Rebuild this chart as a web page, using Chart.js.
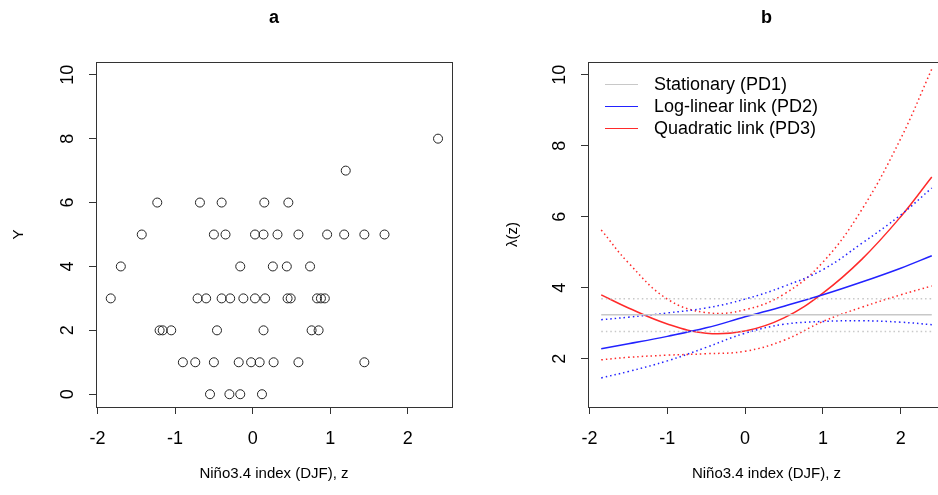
<!DOCTYPE html>
<html>
<head>
<meta charset="utf-8">
<script src="https://cdn.jsdelivr.net/npm/chart.js@4"></script>
<style>
  body { margin: 0; background: #fff; }
  #wrap { position: relative; width: 938px; height: 495px; overflow: hidden; }
  #panelA { position: absolute; left: 0; top: 0; }
  #panelB { position: absolute; left: 469px; top: 0; }
  #legend { position: absolute; left: 605px; top: 73px; font: 18px 'Liberation Sans', Arial, sans-serif; color: #000; }
  #legend .row { display: flex; align-items: center; height: 22px; }
  #legend .key { width: 33px; height: 0; margin-right: 16px; }
</style>
</head>
<body>
<div id="wrap">
  <canvas id="panelA" width="469" height="495"></canvas>
  <canvas id="panelB" width="480" height="495"></canvas>
  <div id="legend"></div>
</div>
<script>
// panel a: observed counts vs Nino3.4 index
const ninoIndex = [
  -0.55, -0.30, -0.16, 0.12,
  -0.90, -0.74, -0.50, -0.18, -0.02, 0.09, 0.27, 0.59, 1.44,
  -1.20, -1.16, -1.05, -0.46, 0.14, 0.76, 0.85,
  -1.83, -0.71, -0.60, -0.40, -0.29, -0.12, 0.03, 0.16, 0.45, 0.49, 0.83, 0.88, 0.93,
  -1.70, -0.16, 0.26, 0.44, 0.74,
  -1.43, -0.50, -0.35, 0.03, 0.14, 0.32, 0.59, 0.96, 1.18, 1.44, 1.70,
  -1.23, -0.68, -0.40, 0.15, 0.46,
  1.20,
  2.39
];
const counts = [
  0, 0, 0, 0,
  1, 1, 1, 1, 1, 1, 1, 1, 1,
  2, 2, 2, 2, 2, 2, 2,
  3, 3, 3, 3, 3, 3, 3, 3, 3, 3, 3, 3, 3,
  4, 4, 4, 4, 4,
  5, 5, 5, 5, 5, 5, 5, 5, 5, 5, 5,
  6, 6, 6, 6, 6,
  7,
  8
];

// panel b: fitted rate lambda(z) with confidence bands
const zGrid  = [-1.85, -1.5, -1, -0.5, 0, 0.5, 1, 1.5, 2, 2.4];
const pd1    = [3.24, 3.24, 3.24, 3.24, 3.24, 3.24, 3.24, 3.24, 3.24, 3.24];
const pd1Lo  = [2.77, 2.77, 2.77, 2.77, 2.77, 2.77, 2.77, 2.77, 2.77, 2.77];
const pd1Hi  = [3.69, 3.69, 3.69, 3.69, 3.69, 3.69, 3.69, 3.69, 3.69, 3.69];
const pd2    = [2.28, 2.42, 2.63, 2.87, 3.18, 3.48, 3.80, 4.16, 4.55, 4.90];
const pd2Lo  = [1.46, 1.64, 1.94, 2.32, 2.72, 2.97, 3.05, 3.07, 3.03, 2.96];
const pd2Hi  = [3.10, 3.17, 3.29, 3.43, 3.68, 4.04, 4.51, 5.25, 6.05, 6.81];
const pd3    = [3.80, 3.43, 2.98, 2.72, 2.78, 3.15, 3.85, 4.80, 6.00, 7.12];
const pd3Lo  = [1.97, 2.04, 2.10, 2.14, 2.21, 2.52, 3.05, 3.45, 3.80, 4.05];
const pd3Hi  = [5.63, 4.70, 3.68, 3.30, 3.38, 3.82, 4.72, 6.20, 8.20, 10.16];

const xTicks = [-2, -1, 0, 1, 2];
const yTicksA = [0, 2, 4, 6, 8, 10];
const yTicksB = [2, 4, 6, 8, 10];

Chart.defaults.font.family = "'Liberation Sans', Arial, sans-serif";
Chart.defaults.font.size = 15;
Chart.defaults.color = "#000";

let axisColor = "#333";
let tickFont = { size: 18 };

// R-style box around the plot region
const boxPlugin = {
    id: "box",
    afterDraw(chart) {
        const a = chart.chartArea;
        const ctx = chart.ctx;
        ctx.save();
        ctx.strokeStyle = axisColor;
        ctx.lineWidth = 1;
        ctx.strokeRect(Math.round(a.left) + 0.5, Math.round(a.top) + 0.5,
            Math.round(a.right - a.left), Math.round(a.bottom - a.top));
        ctx.restore();
    }
};

function xScale() {
    return {
        type: "linear",
        position: "bottom",
        min: -2.02,
        max: 2.57,
        afterBuildTicks: (s) => { s.ticks = xTicks.map(v => ({value: v})) },
        afterFit: (s) => { s.height = 88 },
        grid: { drawOnChartArea: false, drawTicks: true, tickLength: 7, color: axisColor },
        border: { display: false },
        ticks: { padding: 14, maxRotation: 0, font: tickFont, callback: v => v },
        title: { display: true, text: "Niño3.4 index (DJF), z", padding: { top: 0, bottom: 12 } }
    };
}

function yScale(min, max, ticks, width, title, titlePad) {
    return {
        type: "linear",
        min: min,
        max: max,
        afterBuildTicks: (s) => { s.ticks = ticks.map(v => ({value: v})) },
        afterFit: (s) => { s.width = width },
        grid: { drawOnChartArea: false, drawTicks: true, tickLength: 7, color: axisColor },
        border: { display: false },
        ticks: { minRotation: 90, maxRotation: 90, crossAlign: "center", padding: 11, font: tickFont, callback: v => v },
        title: { display: true, text: title, padding: { top: titlePad, bottom: 0 } }
    };
}

new Chart(document.getElementById("panelA"), {
    type: "scatter",
    data: {
        datasets: [
            {
                label: "Y",
                data: ninoIndex.map((z, i) => ({x: z, y: counts[i]})),
                pointStyle: "circle",
                pointRadius: 4.5,
                pointBorderWidth: 1,
                borderColor: "#222",
                backgroundColor: "rgba(0,0,0,0)"
            }
        ]
    },
    options: {
        responsive: false,
        animation: false,
        devicePixelRatio: 1,
        layout: { padding: { left: 0, right: 17, top: 0, bottom: 0 } },
        scales: {
            x: xScale(),
            y: yScale(-0.4, 10.4, yTicksA, 96, "Y", 10)
        },
        plugins: {
            legend: { display: false },
            tooltip: { enabled: false },
            title: {
                display: true,
                text: "a",
                fullSize: false,
                font: { size: 18, weight: "bold" },
                padding: { top: 7, bottom: 33.4 }
            }
        }
    },
    plugins: [boxPlugin]
});

function curve(label, values, color, dotted, inLegend) {
    return {
        label: label,
        data: zGrid.map((z, i) => ({x: z, y: values[i]})),
        borderColor: color,
        borderWidth: 1.5,
        borderDash: dotted ? [1.5, 3] : [],
        pointRadius: 0,
        tension: 0.4,
        fill: false,
        inLegend: inLegend
    };
}

let gray = "#c8c8c8";
let blue = "#2222ff";
let red = "#ff2a2a";

const chartB = new Chart(document.getElementById("panelB"), {
    type: "line",
    data: {
        datasets: [
            curve("Stationary (PD1)", pd1, gray, false, true),
            curve("PD1 lower", pd1Lo, gray, true, false),
            curve("PD1 upper", pd1Hi, gray, true, false),
            curve("Log-linear link (PD2)", pd2, blue, false, true),
            curve("PD2 lower", pd2Lo, blue, true, false),
            curve("PD2 upper", pd2Hi, blue, true, false),
            curve("Quadratic link (PD3)", pd3, red, false, true),
            curve("PD3 lower", pd3Lo, red, true, false),
            curve("PD3 upper", pd3Hi, red, true, false)
        ]
    },
    options: {
        responsive: false,
        animation: false,
        devicePixelRatio: 1,
        layout: { padding: { left: 0, right: 4, top: 0, bottom: 0 } },
        scales: {
            x: xScale(),
            y: yScale(0.64, 10.36, yTicksB, 119, "λ(z)", 35)
        },
        plugins: {
            legend: { display: false },
            tooltip: { enabled: false },
            title: {
                display: true,
                text: "b",
                fullSize: false,
                font: { size: 18, weight: "bold" },
                padding: { top: 7, bottom: 33.4 }
            }
        }
    },
    plugins: [boxPlugin]
});

// html legend from the main fitted curves
const legendBox = document.getElementById("legend");
chartB.data.datasets.filter(d => d.inLegend).forEach(d => {
    const row = document.createElement("div");
    row.className = "row";
    const key = document.createElement("span");
    key.className = "key";
    key.style.borderTop = "1.5px solid " + d.borderColor;
    row.appendChild(key);
    row.appendChild(document.createTextNode(d.label));
    legendBox.appendChild(row);
});
</script>
</body>
</html>
